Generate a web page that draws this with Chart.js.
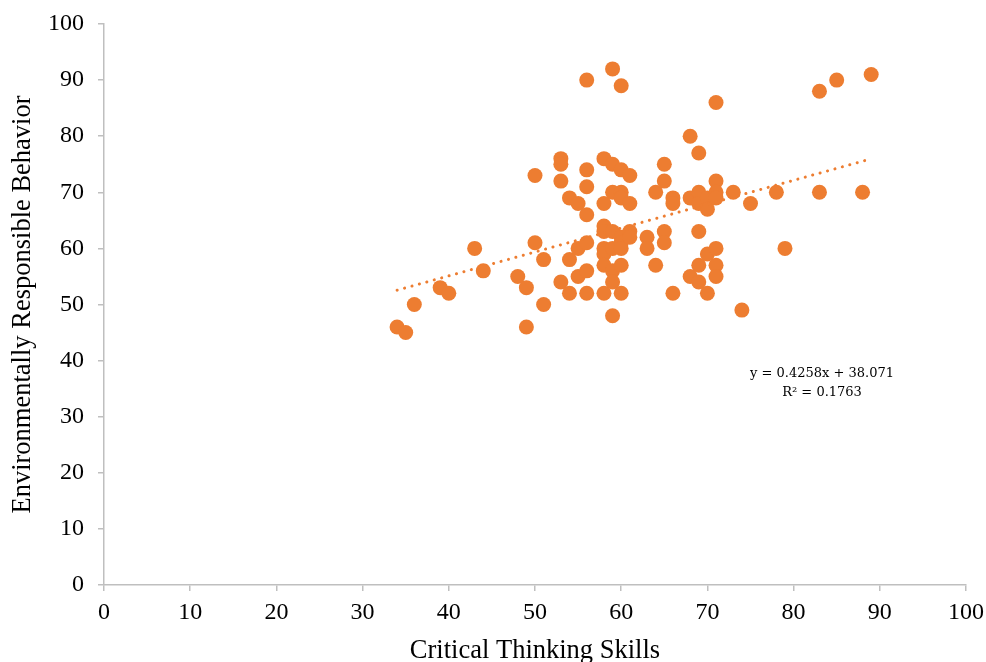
<!DOCTYPE html>
<html>
<head>
<meta charset="utf-8">
<title>Critical Thinking Skills vs Environmentally Responsible Behavior</title>
<script src="https://cdn.jsdelivr.net/npm/chart.js@4/dist/chart.umd.min.js"></script>
<style>
  html, body { margin: 0; padding: 0; background: #fff; }
  #wrap { width: 986px; height: 662px; position: relative; }
</style>
</head>
<body>
<div id="wrap"><canvas id="scatterChart"></canvas></div>
<script>
// Data: one entry per student
const criticalThinking = [
  34, 35, 36, 39, 40, 43, 44, 48, 49, 49,
  50, 50, 51, 51, 53, 53, 53, 53, 54, 54,
  54, 55, 55, 55, 56, 56, 56, 56, 56, 56,
  56, 58, 58, 58, 58, 58, 58, 58, 58, 59,
  59, 59, 59, 59, 59, 59, 59, 60, 60, 60,
  60, 60, 60, 60, 60, 60, 61, 61, 61, 61,
  63, 63, 64, 64, 65, 65, 65, 65, 66, 66,
  66, 68, 68, 68, 69, 69, 69, 69, 69, 69,
  70, 70, 70, 70, 71, 71, 71, 71, 71, 71,
  71, 73, 74, 75, 78, 79, 83, 83, 85, 88,
  89
];
const responsibleBehavior = [
  46, 45, 50, 53, 52, 60, 56, 55, 53, 46,
  73, 61, 58, 50, 76, 75, 72, 54, 69, 58,
  52, 68, 60, 55, 90, 74, 71, 66, 61, 56,
  52, 76, 68, 64, 63, 60, 59, 57, 52, 92,
  75, 70, 63, 60, 56, 54, 48, 89, 74, 70,
  69, 62, 61, 60, 57, 52, 73, 68, 63, 62,
  62, 60, 70, 57, 75, 72, 63, 61, 69, 68,
  52, 80, 69, 55, 77, 70, 68, 63, 57, 54,
  69, 67, 59, 52, 86, 72, 70, 69, 60, 57,
  55, 70, 49, 68, 70, 60, 88, 70, 90, 70,
  91
];

// Linear trendline as reported on the chart
const trendSlope = 0.4258;
const trendIntercept = 38.071;
const trendLabel = ['y = 0.4258x + 38.071', 'R\u00B2 = 0.1763'];

const axisTicks = [0, 10, 20, 30, 40, 50, 60, 70, 80, 90, 100];

const orange = '#ED7D31';
const axisGray = '#bfbfbf';

const points = criticalThinking.map((x, i) => ({ x: x, y: responsibleBehavior[i] }));
const xMin = Math.min(...criticalThinking);
const xMax = Math.max(...criticalThinking);
const trendPoints = [
  { x: xMin, y: trendSlope * xMin + trendIntercept },
  { x: xMax, y: trendSlope * xMax + trendIntercept }
];

// Writes the regression equation near the lower right of the cloud
const equationPlugin = {
  id: 'equationLabel',
  afterDatasetsDraw(chart) {
    const { ctx, scales } = chart;
    const cx = scales.x.getPixelForValue(83.3);
    const cy = scales.y.getPixelForValue(37.6);
    ctx.save();
    ctx.fillStyle = '#000';
    ctx.font = '13px "DejaVu Serif"';
    ctx.textAlign = 'center';
    ctx.textBaseline = 'middle';
    ctx.fillText(trendLabel[0], cx, cy);
    ctx.fillText(trendLabel[1], cx, cy + 19);
    ctx.restore();
  }
};

const tickFont = { family: '"Liberation Serif", "Times New Roman", serif', size: 24 };
const titleFont = { family: '"Liberation Serif", "Times New Roman", serif', size: 26.5 };

const ctx = document.getElementById('scatterChart').getContext('2d');
const scatterChart = new Chart(ctx, {
  type: 'scatter',
  data: {
    datasets: [
      {
        type: 'line',
        label: 'Linear trend',
        data: trendPoints,
        borderColor: orange,
        borderWidth: 3,
        borderDash: [0.1, 7.6],
        borderCapStyle: 'round',
        pointRadius: 0,
        fill: false
      },
      {
        label: 'Students',
        data: points,
        backgroundColor: orange,
        borderWidth: 0,
        pointRadius: 7.5,
        pointHoverRadius: 7.5
      }
    ]
  },
  options: {
    responsive: true,
    maintainAspectRatio: false,
    animation: false,
    layout: { padding: { top: 24, right: 20, left: 0, bottom: 0 } },
    plugins: {
      legend: { display: false },
      tooltip: { enabled: false }
    },
    scales: {
      x: {
        type: 'linear',
        min: 0,
        max: 100,
        afterBuildTicks: (scale) => { scale.ticks = axisTicks.map(v => ({ value: v })); },
        afterFit: (scale) => {
          scale.height = 77;
          scale.paddingLeft = 0;
          scale.paddingRight = 0;
        },
        ticks: { font: tickFont, color: '#000', padding: 7 },
        grid: { drawOnChartArea: false, color: axisGray, lineWidth: 1.5, tickLength: 6 },
        border: { color: axisGray, width: 1.5 },
        title: {
          display: true,
          text: 'Critical Thinking Skills',
          color: '#000',
          font: Object.assign({ lineHeight: 0.85 }, titleFont),
          padding: { top: 0, bottom: 0 }
        }
      },
      y: {
        type: 'linear',
        min: 0,
        max: 100,
        afterBuildTicks: (scale) => { scale.ticks = axisTicks.map(v => ({ value: v })); },
        afterFit: (scale) => {
          scale.width = 104;
          scale.paddingTop = 0;
          scale.paddingBottom = 0;
        },
        ticks: { font: tickFont, color: '#000', padding: 14 },
        grid: { drawOnChartArea: false, color: axisGray, lineWidth: 1.5, tickLength: 6 },
        border: { color: axisGray, width: 1.5 },
        title: {
          display: true,
          text: 'Environmentally Responsible Behavior',
          color: '#000',
          font: titleFont,
          padding: { top: 7, bottom: 0 }
        }
      }
    }
  },
  plugins: [equationPlugin]
});
</script>
</body>
</html>
